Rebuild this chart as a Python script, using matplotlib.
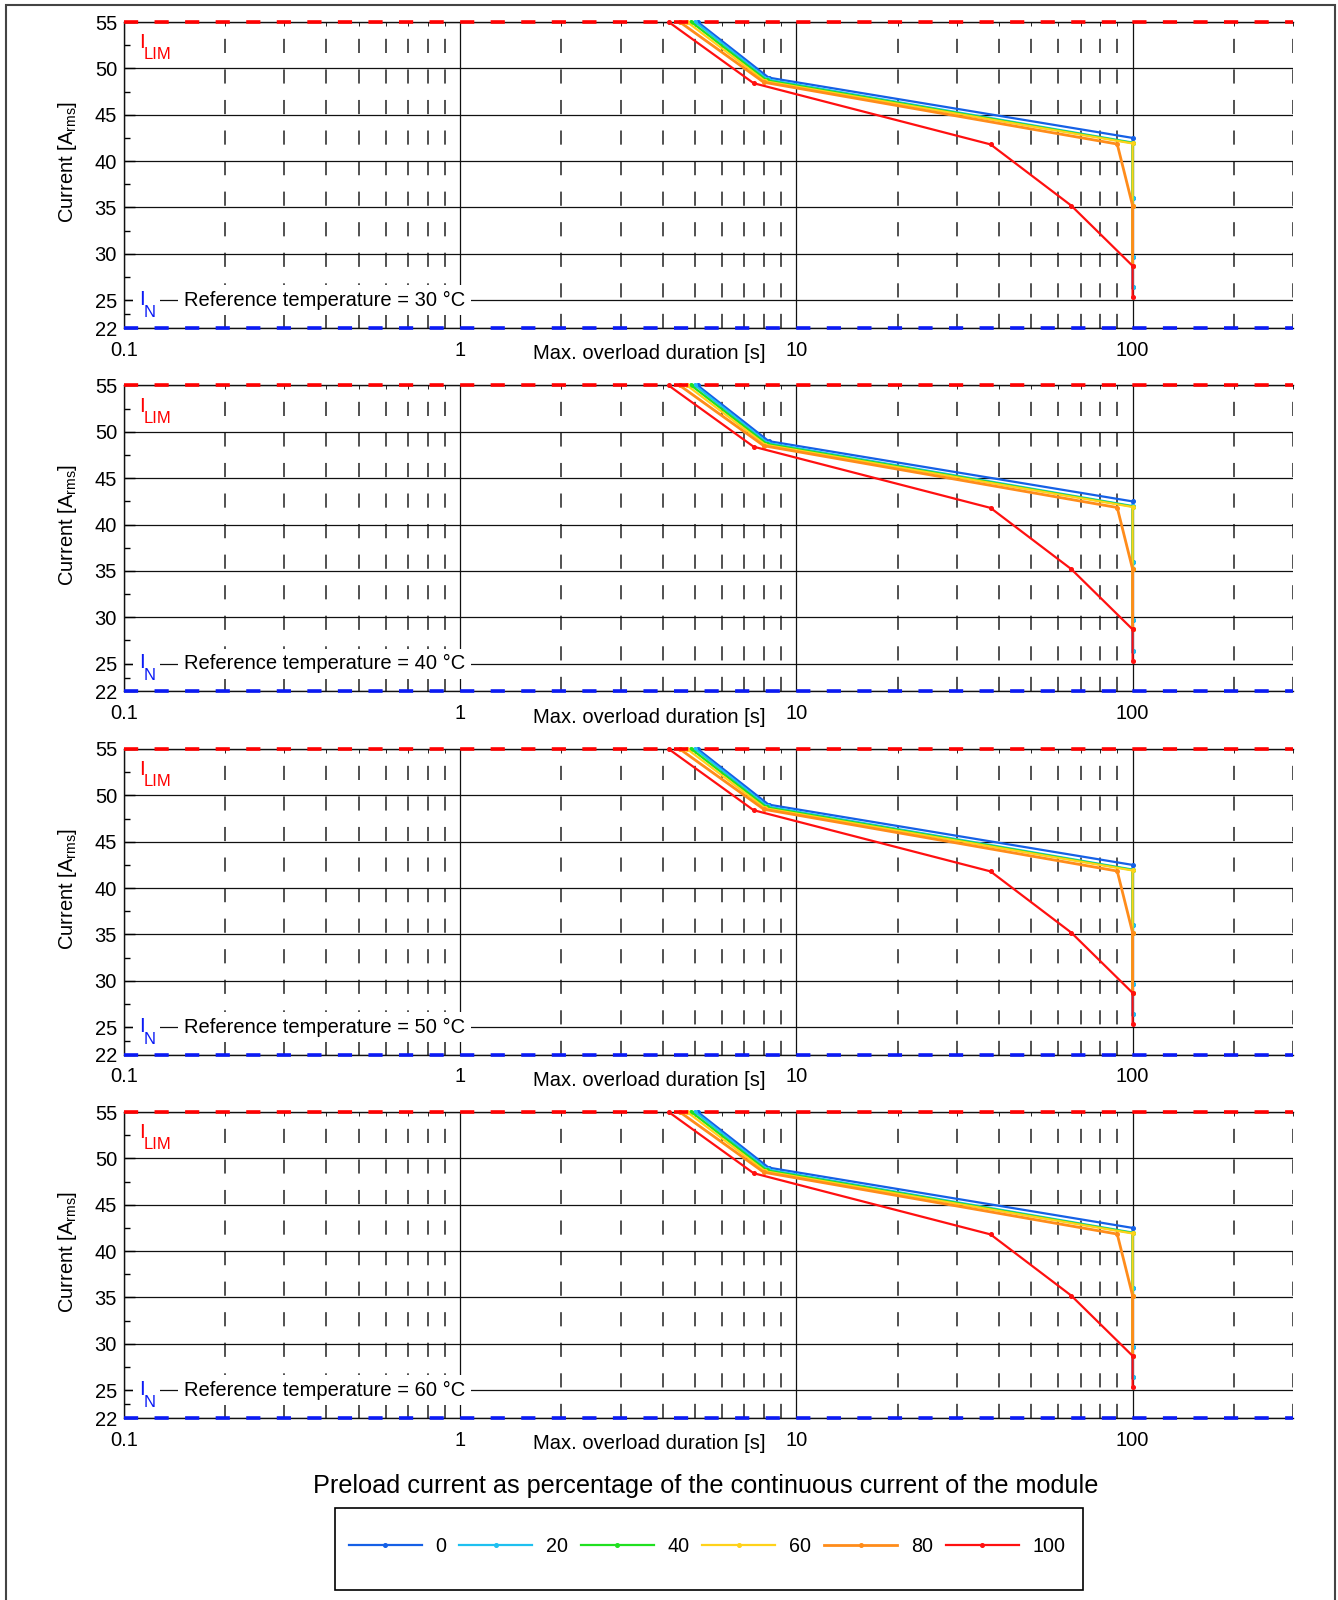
import matplotlib
matplotlib.use("Agg")
import matplotlib.pyplot as plt
from matplotlib.patches import Rectangle
from matplotlib.ticker import FixedLocator, NullFormatter

plt.rcParams['font.family'] = ['Liberation Sans', 'DejaVu Sans']
plt.rcParams['mathtext.fontset'] = 'custom'
plt.rcParams['mathtext.rm'] = 'Liberation Sans'
plt.rcParams['lines.scale_dashes'] = False

# ---------------- data ----------------
temperatures = [30, 40, 50, 60]
preload_labels = ['0', '20', '40', '60', '80', '100']
series_colors = ['#1560E6', '#1EC0F0', '#20E020', '#FFD21A', '#FF8C1A', '#FF1010']

dur_0 = [5.09, 8.27, 100, 100, 100, 100]
cur_0 = [55, 49.0, 42.5, 36.0, 29.7, 26.4]
dur_20 = [5.0, 8.22, 100, 100, 100, 100]
cur_20 = [55, 48.8, 42.0, 36.0, 29.7, 26.4]
dur_40 = [4.87, 8.16, 100, 100, 100]
cur_40 = [55, 48.7, 41.95, 35.2, 28.7]
dur_60 = [4.73, 8.09, 100, 100, 100]
cur_60 = [55, 48.6, 41.9, 35.2, 28.7]
dur_80 = [4.50, 8.0, 90.0, 100, 100]
cur_80 = [55, 48.5, 41.84, 35.2, 28.7]
dur_100 = [4.17, 7.46, 37.8, 65.7, 100, 100]
cur_100 = [55, 48.4, 41.8, 35.2, 28.7, 25.3]

durations = [dur_0, dur_20, dur_40, dur_60, dur_80, dur_100]
currents = [cur_0, cur_20, cur_40, cur_60, cur_80, cur_100]

x_major = [0.1, 1, 10, 100]
x_major_labels = ['0.1', '1', '10', '100']
x_minor = [0.2, 0.3, 0.4, 0.5, 0.6, 0.7, 0.8, 0.9,
           2, 3, 4, 5, 6, 7, 8, 9,
           20, 30, 40, 50, 60, 70, 80, 90, 200, 300]
y_major = [22, 25, 30, 35, 40, 45, 50, 55]
y_minor = [23.5, 27.5, 32.5, 37.5, 42.5, 47.5, 52.5]
I_LIM = 55
I_N = 22
x_limits = (0.1, 300)
y_limits = (22, 55)

title_text = 'Preload current as percentage of the continuous current of the module'

# ---------------- layout ----------------
W, H = 1338, 1600
fig = plt.figure(figsize=(W / 100, H / 100), dpi=100)

ax_left_px, ax_right_px = 124, 1293
ax_w_px = ax_right_px - ax_left_px
ax_h_px = 306
ax_bottoms_px = [328, 691.5, 1055, 1418]


def ax_x(px):
    return (px - ax_left_px) / ax_w_px


def ax_y(py_from_top):
    return (ax_h_px - py_from_top) / ax_h_px


dash = (0, (10.2, 11.8))
last_lines = None
for temp, bpx in zip(temperatures, ax_bottoms_px):
    ax = fig.add_axes([ax_left_px / W, 1 - bpx / H, ax_w_px / W, ax_h_px / H])
    ax.set_xscale('log')
    ax.set_xlim(*x_limits)
    ax.set_ylim(*y_limits)
    ax.xaxis.set_major_locator(FixedLocator(x_major))
    ax.set_xticklabels(x_major_labels)
    ax.xaxis.set_minor_locator(FixedLocator(x_minor))
    ax.xaxis.set_minor_formatter(NullFormatter())
    ax.set_yticks(y_major)
    ax.yaxis.set_minor_locator(FixedLocator(y_minor))

    ax.tick_params(axis='both', which='both', direction='in', labelsize=14.5)
    ax.tick_params(axis='y', which='major', length=8, width=1, pad=5)
    ax.tick_params(axis='y', which='minor', length=4.5, width=1)
    ax.tick_params(axis='x', which='major', length=0, pad=9)
    ax.tick_params(axis='x', which='minor', length=3, top=True, bottom=False)

    ax.spines['right'].set_visible(False)
    for s in ['left', 'top', 'bottom']:
        ax.spines[s].set_linewidth(1.0)
        ax.spines[s].set_color('#111111')

    ax.yaxis.grid(True, which='major', color='#111111', lw=0.9, ls='-')
    ax.xaxis.grid(True, which='major', color='#111111', lw=0.9, ls='-')
    ax.xaxis.grid(True, which='minor', color='#222222', lw=1.1, ls=dash)
    ax.set_axisbelow(True)

    lines = []
    for d, c, col, lab in zip(durations, currents, series_colors, preload_labels):
        lw = 2.0 if lab == '80' else 1.6
        ln, = ax.plot(d, c, color=col, lw=lw, marker='o', ms=2.6,
                      mfc=col, mec=col, label=lab, zorder=3, clip_on=False)
        lines.append(ln)
    last_lines = lines

    ax.axhline(I_LIM, color='#FF0000', lw=2.6, ls=dash, clip_on=False, zorder=4)
    ax.axhline(I_N, color='#0A1AF5', lw=2.6, ls=dash, clip_on=False, zorder=4)

    # I_LIM label
    ax.text(ax_x(139), ax_y(48.3 - 22), 'I', transform=ax.transAxes,
            color='#FF0000', fontsize=15, ha='left', va='baseline')
    ax.text(ax_x(143.5), ax_y(59.3 - 22), 'LIM', transform=ax.transAxes,
            color='#FF0000', fontsize=12, ha='left', va='baseline')

    # I_N label with white background
    ax.add_patch(Rectangle((ax_x(133), ax_y(321 - 22)), ax_x(160) - ax_x(133),
                           ax_y(287 - 22) - ax_y(321 - 22), transform=ax.transAxes,
                           fc='white', ec='none', zorder=4.5))
    ax.text(ax_x(139), ax_y(305 - 22), 'I', transform=ax.transAxes,
            color='#0A1AF5', fontsize=15, ha='left', va='baseline', zorder=5)
    ax.text(ax_x(143.5), ax_y(316.7 - 22), 'N', transform=ax.transAxes,
            color='#0A1AF5', fontsize=12, ha='left', va='baseline', zorder=5)

    bb = dict(boxstyle='square,pad=0.28', fc='white', ec='none')
    trans = ax.get_yaxis_transform()
    ax.text(0.0513, 25, 'Reference temperature = %d °C' % temp, transform=trans,
            fontsize=14.5, ha='left', va='center', bbox=bb, zorder=5)

    ax.text(0.449, -0.084, 'Max. overload duration [s]', transform=ax.transAxes,
            fontsize=14.5, ha='center', va='center')
    ax.text(-0.048, 0.543, r'Current [$\mathregular{A_{rms}}$]', transform=ax.transAxes,
            fontsize=14.5, ha='center', va='center', rotation=90)

fig.text(706 / W, 1 - 1486 / H, title_text, ha='center', va='center', fontsize=18.2)

fig.legend(last_lines, preload_labels, loc='center',
           bbox_to_anchor=(707 / W, 1 - 1546 / H), ncol=6, frameon=False,
           fontsize=14.2, handlelength=3.7, handletextpad=0.7, columnspacing=0.65)

fig.patches.append(Rectangle((335 / W, 1 - 1590 / H), (1083 - 335) / W, 82 / H,
                             transform=fig.transFigure, fill=False,
                             ec='black', lw=1.2))
fig.patches.append(Rectangle((6 / W, -0.01), (1335 - 6) / W, 1 - 5 / H + 0.01,
                             transform=fig.transFigure, fill=False,
                             ec='#444444', lw=1.5, clip_on=False))

fig.savefig('out.png', dpi=100)
